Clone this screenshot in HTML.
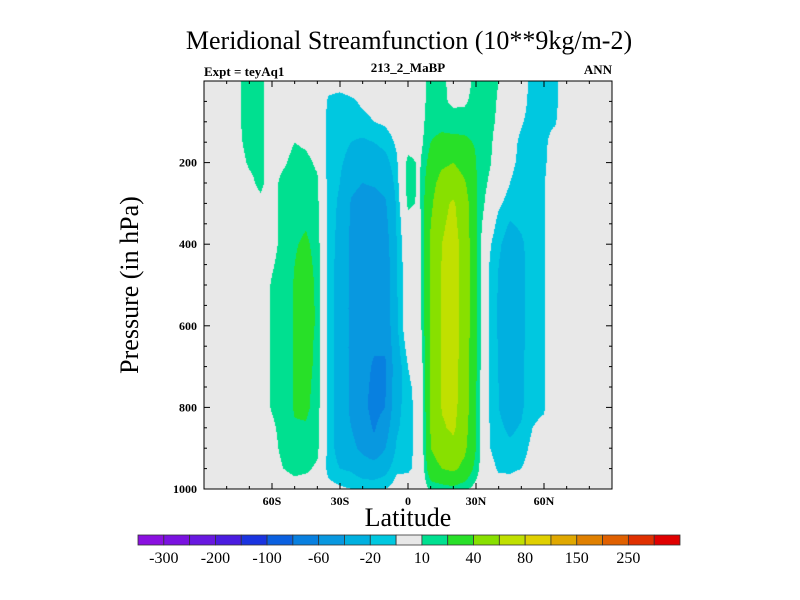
<!DOCTYPE html>
<html><head><meta charset="utf-8"><style>
body{margin:0;background:#fff;}
#wrap{position:relative;width:800px;height:600px;font-family:"Liberation Serif",serif;color:#000;overflow:hidden}
.t{position:absolute;white-space:nowrap}
</style></head><body>
<div id="wrap">
<div class="t" style="left:0;width:818px;text-align:center;top:26px;font-size:26px">Meridional Streamfunction (10**9kg/m-2)</div>
<div class="t" style="left:204px;top:64px;font-size:13px;font-weight:bold">Expt = teyAq1</div>
<div class="t" style="left:358px;width:100px;text-align:center;top:60px;font-size:13px;font-weight:bold">213_2_MaBP</div>
<div class="t" style="left:560px;width:52px;text-align:right;top:62px;font-size:13px;font-weight:bold">ANN</div>
<div class="t" style="left:130px;top:285px;font-size:26px;transform:translate(-50%,-50%) rotate(-90deg)">Pressure (in hPa)</div>
<div class="t" style="left:0;width:816px;text-align:center;top:503px;font-size:26px">Latitude</div>
<canvas id="cv" width="408" height="408" style="position:absolute;left:204px;top:81px"></canvas>
<svg id="sv" width="800" height="600" style="position:absolute;left:0;top:0"></svg>
</div>
<script>
const lats=[-90,-85,-80,-75,-70,-65,-60,-55,-50,-45,-40,-35,-30,-25,-20,-15,-10,-5,0,5,10,15,20,25,30,35,40,45,50,55,60,65,70,75,80,85,90];
const plevs=[0,50,100,150,200,250,300,350,400,450,500,550,600,650,700,750,800,850,900,950,1000];
// values[pIndex][latIndex]
const values=[
[0,0,0,9,13,12,5,3,3,0,0,-5,-5,-3,-3,-2,-2,-2,0,5,14,13,5,4,14,14,10,-2,-4,-14,-12,-13,0,0,0,0,0],
[0,0,0,9,13,12,5,3,3,0,0,-12,-14,-12,-8,-6,-3,-2,0,5,14,12,8,8,15,14,9,-3,-6,-14,-12,-13,0,0,0,0,0],
[0,0,0,9,13,12,5,3,5,3,0,-13,-15,-16,-13,-10,-8,-4,0,5,16,16,14,16,17,14,8,-5,-9,-14,-12,-11,0,0,0,0,0],
[0,0,0,8,13,12,5,5,10,8,4,-14,-16,-20,-22,-20,-16,-8,3,5,20,24,24,22,19,14,5,-6,-12,-14,-12,-6,0,0,0,0,0],
[0,0,0,7,11,12,5,8,14,13,8,-15,-18,-25,-30,-28,-25,-12,14,8,26,36,40,32,20,14,2,-7,-13,-14,-12,-3,0,0,0,0,0],
[0,0,0,5,8,12,5,14,15,14,12,-15,-20,-35,-40,-38,-34,-15,16,8,32,48,52,42,21,10,-3,-10,-15,-14,-11,0,0,0,0,0,0],
[0,0,0,3,5,8,5,14,16,16,13,-15,-22,-42,-48,-48,-42,-18,13,8,36,56,62,50,22,6,-8,-14,-12,-14,-11,0,0,0,0,0,0],
[0,0,0,2,3,5,5,14,17,19,14,-15,-23,-43,-49,-50,-46,-19,4,4,40,58,64,52,22,0,-14,-21,-18,-14,-11,0,0,0,0,0,0],
[0,0,0,0,2,4,6,14,19,22,16,-15,-24,-45,-50,-52,-50,-20,2,3,42,60,66,54,22,-6,-18,-26,-22,-14,-11,0,0,0,0,0,0],
[0,0,0,0,2,4,9,14,20,24,17,-15,-25,-45,-51,-53,-52,-21,0,3,42,61,67,54,22,-8,-20,-27,-23,-14,-11,0,0,0,0,0,0],
[0,0,0,0,2,4,11,14,21,25,18,-15,-25,-45,-52,-54,-54,-21,0,3,42,62,67,54,22,-8,-21,-28,-24,-13,-11,0,0,0,0,0,0],
[0,0,0,0,2,4,11,14,21,26,18,-15,-25,-45,-52,-55,-55,-22,0,3,42,62,67,54,22,-8,-22,-28,-24,-13,-11,0,0,0,0,0,0],
[0,0,0,0,2,4,11,14,21,26,18,-15,-25,-45,-52,-55,-55,-22,0,3,42,62,67,54,22,-8,-22,-28,-24,-13,-11,0,0,0,0,0,0],
[0,0,0,0,2,4,11,14,21,25,17,-15,-25,-45,-53,-58,-58,-25,-5,0,42,62,67,53,22,-8,-21,-27,-23,-13,-11,0,0,0,0,0,0],
[0,0,0,0,2,4,11,14,21,24,17,-15,-25,-45,-54,-62,-62,-28,-10,-3,42,62,66,52,22,-8,-21,-26,-22,-12,-11,0,0,0,0,0,0],
[0,0,0,0,2,4,11,14,21,23,16,-15,-25,-45,-55,-64,-61,-27,-12,-6,42,62,66,52,21,-8,-20,-25,-22,-12,-11,0,0,0,0,0,0],
[0,0,0,0,2,4,11,14,21,22,16,-15,-25,-45,-55,-66,-60,-25,-13,-6,42,61,65,51,21,-8,-20,-25,-22,-12,-11,0,0,0,0,0,0],
[0,0,0,0,0,3,8,14,19,19,14,-15,-25,-40,-50,-62,-50,-22,-13,-6,41,58,63,48,20,-8,-18,-22,-19,-10,-8,0,0,0,0,0,0],
[0,0,0,0,0,2,5,14,16,15,13,-15,-25,-35,-45,-55,-40,-18,-13,-6,40,50,55,44,20,-8,-16,-18,-16,-6,-5,0,0,0,0,0,0],
[0,0,0,0,0,0,3,10,13,12,8,-15,-20,-22,-28,-30,-25,-12,-12,-6,32,40,44,34,15,-3,-12,-12,-10,-3,-2,0,0,0,0,0,0],
[0,0,0,0,0,0,0,3,5,4,3,-5,-8,-10,-12,-12,-10,-5,-3,0,12,14,16,12,6,0,-3,-4,-3,0,0,0,0,0,0,0,0]
];
const levels=[-300,-250,-200,-150,-100,-80,-60,-40,-20,-10,10,20,40,60,80,100,150,200,250,300];
const cbLabels=["-300","-200","-100","-60","-20","10","40","80","150","250"];
const colors=["#8a10e0","#7a12e0","#6818e0","#4a1ce0","#1a34e0","#0a60e0","#0880e0","#0898e0","#00b0e0","#00c8e0","#e8e8e8","#00e090","#28e028","#88e000","#c0e000","#e0d000","#e0a800","#e08000","#e06000","#e03000","#e00000"];
const yTicks=[200,400,600,800,1000];
const xTickVals=[-60,-30,0,30,60];
const xTickLabels=["60S","30S","0","30N","60N"];

const L=204,R=612,T=81,B=489;
const xS=v=>L+(v+90)/180*(R-L);
const yS=p=>T+p/1000*(B-T);
function colorFor(v){let i=0;while(i<levels.length&&v>=levels[i])i++;return colors[i];}
function field(lat,p){
  let i=Math.min(lats.length-2,Math.max(0,Math.floor((lat-lats[0])/5)));
  let j=Math.min(plevs.length-2,Math.max(0,Math.floor(p/50)));
  let fx=(lat-lats[i])/(lats[i+1]-lats[i]),fy=(p-plevs[j])/(plevs[j+1]-plevs[j]);
  return values[j][i]*(1-fx)*(1-fy)+values[j][i+1]*fx*(1-fy)+values[j+1][i]*(1-fx)*fy+values[j+1][i+1]*fx*fy;
}
const cv=document.getElementById('cv'),ctx=cv.getContext('2d');
const img=ctx.createImageData(408,408);
function hex(c){return [parseInt(c.slice(1,3),16),parseInt(c.slice(3,5),16),parseInt(c.slice(5,7),16)];}
for(let py=0;py<408;py++)for(let px=0;px<408;px++){
  const lat=-90+(px+0.5)/408*180,p=(py+0.5)/408*1000;
  const c=hex(colorFor(field(lat,p)));const k=(py*408+px)*4;
  img.data[k]=c[0];img.data[k+1]=c[1];img.data[k+2]=c[2];img.data[k+3]=255;
}
ctx.putImageData(img,0,0);

const NS="http://www.w3.org/2000/svg",sv=document.getElementById('sv');
function mk(tag,at,txt){const e=document.createElementNS(NS,tag);for(const k in at)e.setAttribute(k,at[k]);if(txt!==undefined)e.textContent=txt;sv.appendChild(e);return e;}
let fr=mk('rect',{x:L,y:T,width:R-L,height:B-T,fill:'none',stroke:'#000','stroke-width':1});


for(let v=-80;v<=80;v+=10){const maj=v%30===0;const len=maj?6:3;
  let a=mk('line',{x1:xS(v),x2:xS(v),y1:B,y2:B-len,stroke:'#000'});
  let b=mk('line',{x1:xS(v),x2:xS(v),y1:T,y2:T+len,stroke:'#000'});}
for(let p=50;p<1000;p+=50){const maj=p%200===0;const len=maj?6:3;
  let a=mk('line',{x1:L,x2:L+len,y1:yS(p),y2:yS(p),stroke:'#000'});
  let b=mk('line',{x1:R,x2:R-len,y1:yS(p),y2:yS(p),stroke:'#000'});}
yTicks.forEach(p=>{let t=mk('text',{x:L-7,y:yS(p)+4,'text-anchor':'end','font-size':12,'font-weight':'bold','font-family':'Liberation Serif,serif'},p);
  });
xTickVals.forEach((v,i)=>{let t=mk('text',{x:xS(v),y:B+16,'text-anchor':'middle','font-size':12,'font-weight':'bold','font-family':'Liberation Serif,serif'},xTickLabels[i]);
  });
// colorbar
const cbL=138,cbR=680,cbT=535,cbB=545,bw=(cbR-cbL)/colors.length;
colors.forEach((c,i)=>{let r=mk('rect',{x:cbL+i*bw,y:cbT,width:bw,height:cbB-cbT,fill:c,stroke:'#333','stroke-width':0.8});
  });
cbLabels.forEach((s,i)=>{let t=mk('text',{x:cbL+(2*i+1)*bw,y:563,'text-anchor':'middle','font-size':16,'font-family':'Liberation Serif,serif'},s);
  });
</script>
</body></html>
